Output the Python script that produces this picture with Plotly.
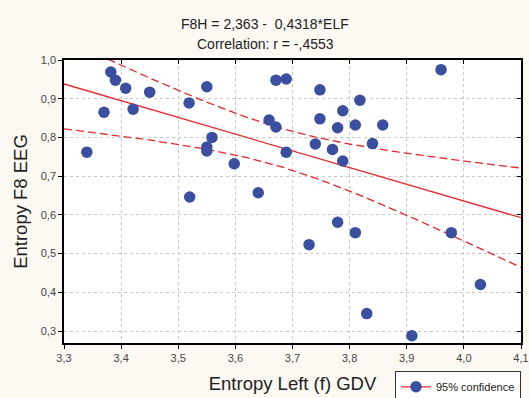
import numpy as np
import plotly.graph_objects as go

# Entropy Left (f) GDV vs Entropy F8 EEG
elf = [3.34, 3.37, 3.382, 3.39, 3.408, 3.421, 3.45, 3.519, 3.52, 3.55,
       3.559, 3.55, 3.55, 3.598, 3.64, 3.659, 3.671, 3.671, 3.689, 3.689,
       3.748, 3.818, 3.788, 3.748, 3.779, 3.81, 3.858, 3.74, 3.77, 3.84,
       3.788, 3.96, 3.729, 3.779, 3.81, 3.978, 4.029, 3.83, 3.909]
f8h = [0.762, 0.865, 0.969, 0.948, 0.927, 0.873, 0.917, 0.889, 0.646, 0.931,
       0.800, 0.775, 0.765, 0.732, 0.657, 0.845, 0.827, 0.948, 0.951, 0.762,
       0.923, 0.896, 0.869, 0.848, 0.825, 0.832, 0.832, 0.783, 0.769, 0.784,
       0.739, 0.975, 0.523, 0.581, 0.554, 0.554, 0.420, 0.345, 0.288]

intercept = 2.363
slope = -0.4318
r_value = -0.4553
t_crit = 2.026  # t(0.975, n-2)

x = np.array(elf)
y = np.array(f8h)
n = len(x)

# fit line and 95% band for the mean
xs = np.linspace(3.3, 4.1, 101)
fit = intercept + slope * xs
resid = y - (intercept + slope * x)
s = np.sqrt(np.sum(resid ** 2) / (n - 2))
sxx = np.sum((x - x.mean()) ** 2)
half = t_crit * s * np.sqrt(1 / n + (xs - x.mean()) ** 2 / sxx)

red = "#e8262b"
blue = "#3a4f9f"
dash = "8px,4px"

fig = go.Figure()
fig.add_trace(go.Scatter(x=xs, y=fit + half, mode="lines", showlegend=False,
                         line=dict(color=red, width=1.3, dash=dash)))
fig.add_trace(go.Scatter(x=xs, y=fit - half, mode="lines", showlegend=False,
                         line=dict(color=red, width=1.3, dash=dash)))
fig.add_trace(go.Scatter(x=xs, y=fit, mode="lines", showlegend=False,
                         line=dict(color=red, width=1.3)))
fig.add_trace(go.Scatter(x=elf, y=f8h, mode="markers", showlegend=False,
                         marker=dict(color=blue, size=11.5)))
# legend entry only
fig.add_trace(go.Scatter(x=[None], y=[None], mode="lines+markers", name="95% confidence",
                         marker=dict(color=blue, size=11.5),
                         line=dict(color=red, width=1.3)))
# empty trace to get mirrored axes with inward ticks (top / right)
fig.add_trace(go.Scatter(x=[None], y=[None], xaxis="x2", yaxis="y2",
                         showlegend=False, hoverinfo="skip"))

eq = f"F8H = {intercept:.3f} -  {abs(slope):.4f}*ELF".replace(".", ",")
corr = "Correlation: r = -" + f"{abs(r_value):.4f}"[1:].replace(".", ",")

axis_font = dict(family="Liberation Sans, Arial", size=11, color="#444")
grid = dict(showgrid=True, gridcolor="#c8c8c8", griddash="dot", zeroline=False)
fig.update_layout(
    width=529, height=398,
    margin=dict(l=64, r=8, t=60, b=55, autoexpand=False),
    paper_bgcolor="#fcf9f2", plot_bgcolor="white",
    separators=", ",
    font=dict(family="Liberation Sans, Arial", color="#222"),
    legend=dict(x=1.0, xanchor="right", y=-0.1, yanchor="top",
                bgcolor="white", bordercolor="#333", borderwidth=1,
                font=dict(size=11, color="#222"), itemwidth=30,
                tracegroupgap=0),
    xaxis=dict(range=[3.3, 4.1], dtick=0.1, tickformat=".1f", automargin=False,
               showline=True, linecolor="black", linewidth=1.5, mirror=True,
               ticks="outside", ticklen=4, tickcolor="black", tickfont=axis_font,
               title=dict(text="Entropy Left (f) GDV", standoff=14,
                          font=dict(size=18.5, color="#222")), **grid),
    yaxis=dict(range=[0.269, 1.0], tick0=0.3, dtick=0.1, tickformat=".1f",
               automargin=False,
               showline=True, linecolor="black", linewidth=1.5, mirror=True,
               ticks="outside", ticklen=4, tickcolor="black", tickfont=axis_font,
               title=dict(text="Entropy F8 EEG", standoff=8,
                          font=dict(size=18.5, color="#222")), **grid),
    xaxis2=dict(range=[3.3, 4.1], dtick=0.1, overlaying="x", side="top",
                ticks="inside", ticklen=4, tickcolor="black",
                showticklabels=False, showgrid=False, zeroline=False),
    yaxis2=dict(range=[0.269, 1.0], tick0=0.3, dtick=0.1, overlaying="y", side="right",
                ticks="inside", ticklen=4, tickcolor="black",
                showticklabels=False, showgrid=False, zeroline=False),
    annotations=[
        dict(text=eq, xref="paper", yref="paper", x=0.44, y=1.128,
             xanchor="center", yanchor="middle", showarrow=False,
             font=dict(size=14, color="#222")),
        dict(text=corr, xref="paper", yref="paper", x=0.44, y=1.057,
             xanchor="center", yanchor="middle", showarrow=False,
             font=dict(size=14, color="#222")),
    ],
)

# drop the page's default body margin so the figure sits at the window's corner
fig.write_html("out.html", config={"displayModeBar": False},
               post_script="document.body.style.margin='0';")
